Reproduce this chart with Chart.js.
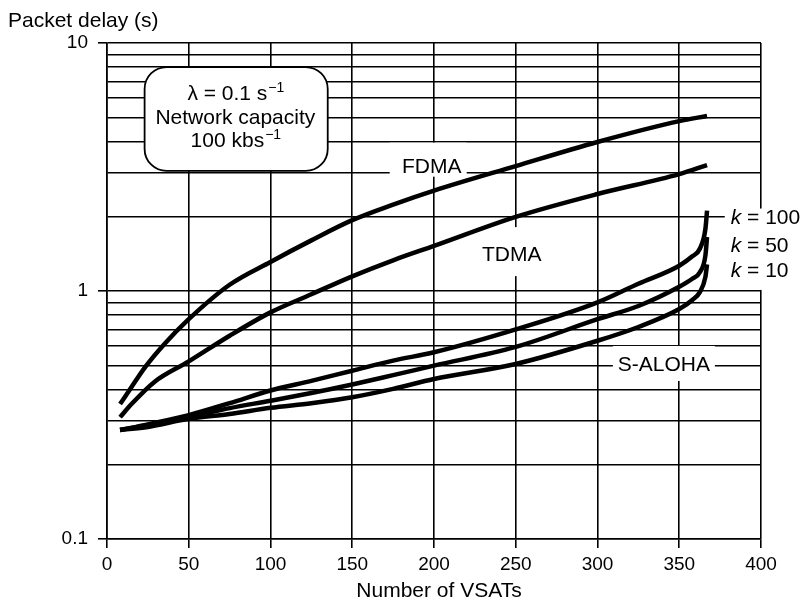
<!DOCTYPE html>
<html>
<head>
<meta charset="utf-8">
<script src="https://cdn.jsdelivr.net/npm/chart.js@4.4.0/dist/chart.umd.min.js"></script>
<style>
  body { margin: 0; background: #fff; }
  #container { width: 801px; height: 605px; }
</style>
</head>
<body>
<div id="container"><canvas id="delayChart" width="801" height="605"></canvas></div>
<script>
  // values: packet delay (s) against number of VSATs
  var fdmaX = [8, 15, 23, 35, 50, 75, 100, 125, 150, 175, 200, 250, 300, 350, 367];
  var fdmaY = [0.35, 0.41, 0.49, 0.61, 0.77, 1.06, 1.31, 1.60, 1.93, 2.23, 2.54, 3.19, 3.99, 4.84, 5.08];

  var tdmaX = [8, 15, 29, 50, 75, 100, 125, 150, 175, 200, 250, 300, 350, 367];
  var tdmaY = [0.31, 0.35, 0.43, 0.52, 0.66, 0.82, 0.97, 1.146, 1.33, 1.52, 1.99, 2.46, 2.96, 3.22];

  var alohaX = [8, 25, 50, 75, 100, 125, 150, 175, 200, 250, 300, 325, 350, 358, 362.6, 366, 367];
  var k100Y = [0.275, 0.29, 0.316, 0.353, 0.397, 0.434, 0.477, 0.524, 0.566, 0.70, 0.90, 1.07, 1.265, 1.38, 1.48, 1.78, 2.11];
  var k50Y  = [0.275, 0.288, 0.31, 0.337, 0.361, 0.388, 0.42, 0.458, 0.50, 0.595, 0.77, 0.87, 1.04, 1.12, 1.19, 1.39, 1.65];
  var k10Y  = [0.275, 0.283, 0.305, 0.319, 0.338, 0.353, 0.373, 0.403, 0.442, 0.508, 0.63, 0.716, 0.846, 0.92, 0.99, 1.14, 1.28];

  var yGridValues = [0.1, 0.2, 0.3, 0.4, 0.5, 0.6, 0.7, 0.8, 0.9, 1, 2, 3, 4, 5, 6, 7, 8, 9, 10];
  var yTickLabels = {0.1: '0.1', 1: '1', 10: '10'};

  var FONT = '"Liberation Sans", Arial, Helvetica, sans-serif';
  var TXT = 21;

  function pts(xs, ys) {
    return xs.map(function (x, i) { return {x: x, y: ys[i]}; });
  }

  function curve(label, xs, ys) {
    return {
      label: label,
      data: pts(xs, ys),
      borderColor: '#000',
      borderWidth: 4.5,
      pointRadius: 0,
      fill: false,
      cubicInterpolationMode: 'monotone'
    };
  }

  function clearRect(ctx, x1, y1, x2, y2) {
    ctx.fillStyle = '#fff';
    ctx.fillRect(x1, y1, x2 - x1, y2 - y1);
  }

  // text with an optional superscript tail, centred
  function supText(ctx, main, sup, x, y) {
    ctx.font = TXT + 'px ' + FONT;
    var w1 = ctx.measureText(main).width;
    ctx.font = '14px ' + FONT;
    var w2 = sup ? ctx.measureText(sup).width : 0;
    var start = x - (w1 + w2) / 2;
    ctx.textAlign = 'left';
    ctx.fillStyle = '#000';
    ctx.font = TXT + 'px ' + FONT;
    ctx.fillText(main, start, y);
    if (sup) {
      ctx.font = '14px ' + FONT;
      ctx.fillText(sup, start + w1 + 1, y - 8);
    }
  }

  function kLabel(ctx, val, x, y) {
    ctx.textAlign = 'left';
    ctx.fillStyle = '#000';
    ctx.font = 'italic ' + TXT + 'px ' + FONT;
    ctx.fillText('k', x, y);
    var w = ctx.measureText('k').width;
    ctx.font = TXT + 'px ' + FONT;
    ctx.fillText(' = ' + val, x + w, y);
  }

  var notes = {
    id: 'notes',
    beforeDatasetsDraw: function (chart) {
      var ctx = chart.ctx;
      var xs = chart.scales.x, ys = chart.scales.y;
      function px(v) { return xs.getPixelForValue(v); }
      function py(v) { return ys.getPixelForValue(v); }
      ctx.save();
      ctx.textBaseline = 'alphabetic';

      // parameter box
      var bx1 = px(23), bx2 = px(135), by1 = py(8.0), by2 = py(3.05);
      ctx.beginPath();
      ctx.roundRect(bx1, by1, bx2 - bx1, by2 - by1, 22);
      ctx.fillStyle = '#fff';
      ctx.fill();
      ctx.lineWidth = 1.8;
      ctx.strokeStyle = '#000';
      ctx.stroke();
      var cx = px(78.5);
      supText(ctx, '\u03bb = 0.1 s', '\u22121', cx, py(5.89));
      supText(ctx, 'Network capacity', '', cx, py(4.71));
      supText(ctx, '100 kbs', '\u22121', cx, py(3.81));

      ctx.font = TXT + 'px ' + FONT;
      ctx.textAlign = 'center';

      // FDMA
      var fx = px(198.6), fy = py(3);
      clearRect(ctx, fx - 42, fy - 30, fx + 35, fy + 4);
      ctx.fillStyle = '#000';
      ctx.fillText('FDMA', fx, fy);

      // TDMA
      var tx = px(247.5), ty = py(1.32);
      clearRect(ctx, tx - 37, ty - 34, tx + 37, ty + 15);
      ctx.fillStyle = '#000';
      ctx.fillText('TDMA', tx, ty);

      // S-ALOHA
      var sx = px(340.6), sy = py(0.476);
      clearRect(ctx, sx - 51, sy - 25, sx + 51, sy + 10);
      ctx.fillStyle = '#000';
      ctx.fillText('S-ALOHA', sx, sy);

      // k labels at right edge
      var kx = px(381.5);
      clearRect(ctx, kx - 6, py(2.15), chart.width, py(1.01));
      kLabel(ctx, '100', kx, py(1.86));
      kLabel(ctx, '50', kx, py(1.44));
      kLabel(ctx, '10', kx, py(1.14));

      ctx.restore();
    },
    afterDraw: function (chart) {
      var ctx = chart.ctx;
      ctx.save();
      ctx.fillStyle = '#000';
      ctx.font = TXT + 'px ' + FONT;
      ctx.textBaseline = 'alphabetic';
      ctx.textAlign = 'left';
      ctx.fillText('Packet delay (s)', 8, 27);
      ctx.textAlign = 'center';
      var a = chart.chartArea;
      ctx.fillText('Number of VSATs', (a.left + a.right) / 2 + 5, 597);
      ctx.restore();
    }
  };

  var ctxD = document.getElementById('delayChart').getContext('2d');
  var delayChart = new Chart(ctxD, {
    type: 'line',
    data: {
      datasets: [
        curve('FDMA', fdmaX, fdmaY),
        curve('TDMA', tdmaX, tdmaY),
        curve('S-ALOHA k = 100', alohaX, k100Y),
        curve('S-ALOHA k = 50', alohaX, k50Y),
        curve('S-ALOHA k = 10', alohaX, k10Y)
      ]
    },
    options: {
      responsive: false,
      animation: false,
      layout: { padding: { top: 43, right: 40, bottom: 0, left: 0 } },
      plugins: {
        legend: { display: false },
        tooltip: { enabled: false }
      },
      scales: {
        x: {
          type: 'linear',
          min: 0,
          max: 400,
          afterFit: function (scale) { scale.height = 66; },
          ticks: {
            stepSize: 50,
            color: '#000',
            padding: 5,
            maxRotation: 0,
            font: { family: FONT, size: 19 }
          },
          grid: { color: '#000', lineWidth: 1.6, tickLength: 9, tickColor: '#000' },
          border: { color: '#000', width: 1.6 }
        },
        y: {
          type: 'logarithmic',
          min: 0.1,
          max: 10,
          afterFit: function (scale) { scale.width = 107; },
          afterBuildTicks: function (scale) {
            scale.ticks = yGridValues.map(function (v) { return {value: v}; });
          },
          ticks: {
            autoSkip: false,
            color: '#000',
            padding: 10,
            font: { family: FONT, size: 19 },
            callback: function (value) { return yTickLabels[value] || ''; }
          },
          grid: {
            color: '#000',
            lineWidth: 1.6,
            tickLength: 9,
            tickColor: function (c) {
              return c.tick && yTickLabels[c.tick.value] ? '#000' : 'rgba(0,0,0,0)';
            }
          },
          border: { color: '#000', width: 1.6 }
        }
      }
    },
    plugins: [notes]
  });
</script>
</body>
</html>
